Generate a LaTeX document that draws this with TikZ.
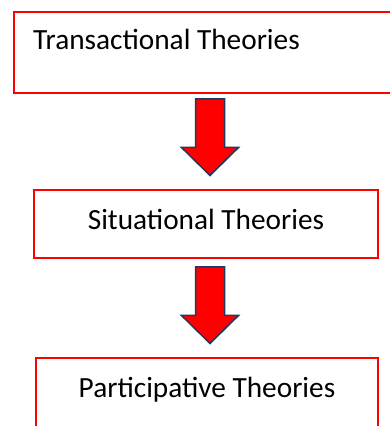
\documentclass[tikz,border=0pt]{standalone}
\usepackage{fontspec}
\setmainfont{Carlito}
\usetikzlibrary{positioning}
\definecolor{boxred}{HTML}{FF0000}
\definecolor{arrowrim}{HTML}{203864}

\begin{document}
\begin{tikzpicture}[
    x=1pt, y=1pt,
    box/.style={rectangle, draw=boxred, line width=2pt, minimum width=344pt, minimum height=68pt, inner sep=0pt},
    boxtext/.style={font=\fontsize{29.3}{34}\selectfont, inner sep=0pt},
    blockarrow/.style={draw=arrowrim, fill=boxred, line width=1.5pt, line join=miter}
]
    \useasboundingbox (0,0) rectangle (390,426);

    % Transactional
    \node[box, minimum width=382pt, minimum height=81pt, anchor=north west] (trans) at (13,415) {};
    \node[boxtext, anchor=base west] (transtext) at ([xshift=20pt, yshift=-39pt]trans.north west) {Transactional Theories};

    % Situational
    \node[box] (situ) at (206,202) {};
    \node[boxtext, anchor=base] (situtext) at ([yshift=-41pt]situ.north) {Situational Theories};

    % Participative
    \node[box, minimum width=342pt, minimum height=77pt, anchor=north west] (parti) at (35,69) {};
    \node[boxtext, anchor=base] (partitext) at ([yshift=-41pt]parti.north) {Participative Theories};

    % Arrows
    \coordinate (arrA) at (210,327);
    \coordinate (arrB) at (210,159);
    \foreach \top in {arrA,arrB}
        \draw[blockarrow] (\top) ++(-14.5,0) -- ++(29,0) -- ++(0,-48.5) -- ++(14,0)
            -- ++(-28.5,-28) -- ++(-28.5,28) -- ++(14,0) -- cycle;
\end{tikzpicture}
\end{document}
